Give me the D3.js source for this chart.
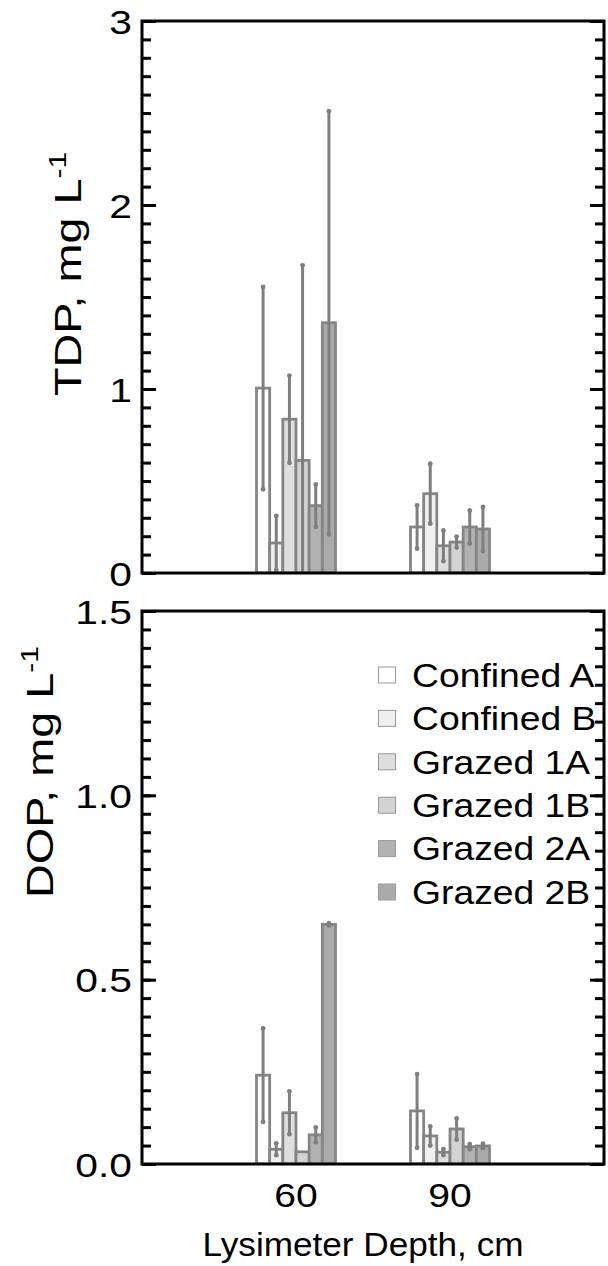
<!DOCTYPE html>
<html>
<head>
<meta charset="utf-8">
<script src="https://cdn.jsdelivr.net/npm/d3@7"></script>
<style>
  body { margin: 0; background: #fff; }
  svg { display: block; font-family: "Liberation Sans", Arial, Helvetica, sans-serif; }
</style>
</head>
<body>
<svg width="608" height="1266"></svg>
<script>
let series = ['Confined A', 'Confined B', 'Grazed 1A', 'Grazed 1B', 'Grazed 2A', 'Grazed 2B']
let depths = [60, 90]
let fills = ['#ffffff', '#efefef', '#dedede', '#d3d3d3', '#b2b2b2', '#aaaaaa']

// TDP, mg/L  (mean and +/- error) per depth
let tdp60 = [1.005, 0.163, 0.836, 0.612, 0.366, 1.36]
let tdp60Err = [0.55, 0.147, 0.237, 1.06, 0.115, 1.15]
let tdp90 = [0.25, 0.431, 0.148, 0.168, 0.25, 0.239]
let tdp90Err = [0.118, 0.163, 0.084, 0.03, 0.09, 0.12]

// DOP, mg/L
let dop60 = [0.241, 0.040, 0.139, 0.033, 0.079, 0.65]
let dop60Err = [0.127, 0.016, 0.058, 0, 0.02, 0.003]
let dop90 = [0.144, 0.076, 0.032, 0.095, 0.047, 0.049]
let dop90Err = [0.1, 0.026, 0.008, 0.029, 0.007, 0.006]

let tdpTicks = [0, 1, 2, 3]
let dopTicks = [0, 0.5, 1.0, 1.5]

let barStroke = '#858585'

let margin = { left: 142, right: 4 }
let width = 608

let xScale = d3.scaleLinear()
  .domain([30, 120])
  .range([margin.left, width - margin.right])

let barOffset = d3.scaleBand()
  .domain(series)
  .range([-39.5, 39.5])

let svg = d3.select('svg')

function rows(values, errs) {
  return series.map((s, i) => ({ name: s, value: values[i], err: errs[i], fill: fills[i] }))
}

function panel(opts) {
  let y = d3.scaleLinear().domain(opts.domain).range([opts.bottom, opts.top])
  let g = svg.append('g')

  let clipId = 'clip-' + opts.id
  svg.append('clipPath').attr('id', clipId)
    .append('rect')
    .attr('x', xScale.range()[0]).attr('y', opts.top)
    .attr('width', xScale.range()[1] - xScale.range()[0])
    .attr('height', opts.bottom - opts.top)

  let plot = g.append('g').attr('clip-path', 'url(#' + clipId + ')')

  opts.groups.forEach(grp => {
    let gx = xScale(grp.depth)
    plot.append('g').selectAll('rect').data(grp.rows).join('rect')
      .attr('x', d => gx + barOffset(d.name))
      .attr('y', d => y(d.value))
      .attr('width', barOffset.bandwidth())
      .attr('height', d => y(0) - y(d.value))
      .attr('fill', d => d.fill)
      .attr('stroke', barStroke)
      .attr('stroke-width', 2.8)

    let withErr = grp.rows.filter(d => d.err > 0)
    let eb = plot.append('g').selectAll('g').data(withErr).join('g')
      .attr('transform', d => 'translate(' + (gx + barOffset(d.name) + barOffset.bandwidth() / 2) + ',0)')
    eb.append('line')
      .attr('y1', d => y(d.value - d.err))
      .attr('y2', d => y(d.value + d.err))
      .attr('stroke', '#7f7f7f')
      .attr('stroke-width', 3)
    eb.selectAll('circle').data(d => [d.value - d.err, d.value + d.err]).join('circle')
      .attr('cy', v => y(v))
      .attr('r', 2.4)
      .attr('fill', '#7f7f7f')
  })

  // minor ticks, inward, both sides
  let minor = d3.range(opts.domain[0], opts.domain[1] + 1e-9, opts.minorStep)
  g.append('g')
    .attr('transform', 'translate(' + xScale.range()[0] + ',0)')
    .call(d3.axisLeft(y).tickValues(minor).tickSize(-9).tickFormat(''))
  g.append('g')
    .attr('transform', 'translate(' + xScale.range()[1] + ',0)')
    .call(d3.axisRight(y).tickValues(minor).tickSize(-9).tickFormat(''))
  // major ticks with labels
  let major = g.append('g')
    .attr('transform', 'translate(' + xScale.range()[0] + ',0)')
    .call(d3.axisLeft(y).tickValues(opts.ticks).tickSize(-14).tickPadding(10).tickFormat(opts.format))
  g.append('g')
    .attr('transform', 'translate(' + xScale.range()[1] + ',0)')
    .call(d3.axisRight(y).tickValues(opts.ticks).tickSize(-14).tickFormat(''))

  g.selectAll('.domain').remove()
  g.selectAll('.tick line').attr('stroke', '#000').attr('stroke-width', 3)
  major.selectAll('.tick text')
    .attr('font-size', 34)
    .attr('fill', '#000')
    .attr('dy', '0.36em')
    .attr('x', null)
    .attr('transform', 'translate(-10,0) scale(1.2,1)')

  g.append('rect')
    .attr('x', xScale.range()[0]).attr('y', opts.top)
    .attr('width', xScale.range()[1] - xScale.range()[0])
    .attr('height', opts.bottom - opts.top)
    .attr('fill', 'none')
    .attr('stroke', '#000')
    .attr('stroke-width', 3)

  let title = g.append('text')
    .attr('transform', 'translate(' + opts.titleX + ',' + opts.titleY + ') rotate(-90) scale(1.2,0.95)')
    .attr('text-anchor', 'middle')
    .attr('font-size', 39)
  title.append('tspan').text(opts.title)
  title.append('tspan').text('-1').attr('font-size', 25).attr('dy', -16)

  return y
}

panel({
  id: 'tdp', domain: [0, 3], top: 21, bottom: 573,
  ticks: tdpTicks, minorStep: 0.1, format: d3.format('d'),
  title: 'TDP, mg L', titleX: 81, titleY: 274,
  groups: [
    { depth: depths[0], rows: rows(tdp60, tdp60Err) },
    { depth: depths[1], rows: rows(tdp90, tdp90Err) }
  ]
})

panel({
  id: 'dop', domain: [0, 1.5], top: 611, bottom: 1164,
  ticks: dopTicks, minorStep: 0.05, format: d3.format('.1f'),
  title: 'DOP, mg L', titleX: 53, titleY: 772,
  groups: [
    { depth: depths[0], rows: rows(dop60, dop60Err) },
    { depth: depths[1], rows: rows(dop90, dop90Err) }
  ]
})

// x labels (no tick marks in the source)
svg.append('g').selectAll('text').data(depths).join('text')
  .attr('transform', d => 'translate(' + xScale(d) + ',1207) scale(1.15,1)')
  .attr('text-anchor', 'middle')
  .attr('font-size', 34)
  .text(d => d)

svg.append('text')
  .attr('transform', 'translate(363,1256) scale(1.05,1)')
  .attr('text-anchor', 'middle')
  .attr('font-size', 33.5)
  .text('Lysimeter Depth, cm')

// legend
let legend = svg.append('g').selectAll('g').data(series).join('g')
  .attr('transform', (d, i) => 'translate(378,' + (675 + i * 43.4) + ')')
legend.append('rect')
  .attr('x', 0.5).attr('y', -8)
  .attr('width', 17).attr('height', 16)
  .attr('fill', (d, i) => fills[i])
  .attr('stroke', '#999')
  .attr('stroke-width', 1)
legend.append('text')
  .attr('transform', 'translate(34,0) scale(1.13,1)')
  .attr('dy', '0.36em')
  .attr('font-size', 33)
  .text(d => d)
</script>
</body>
</html>
